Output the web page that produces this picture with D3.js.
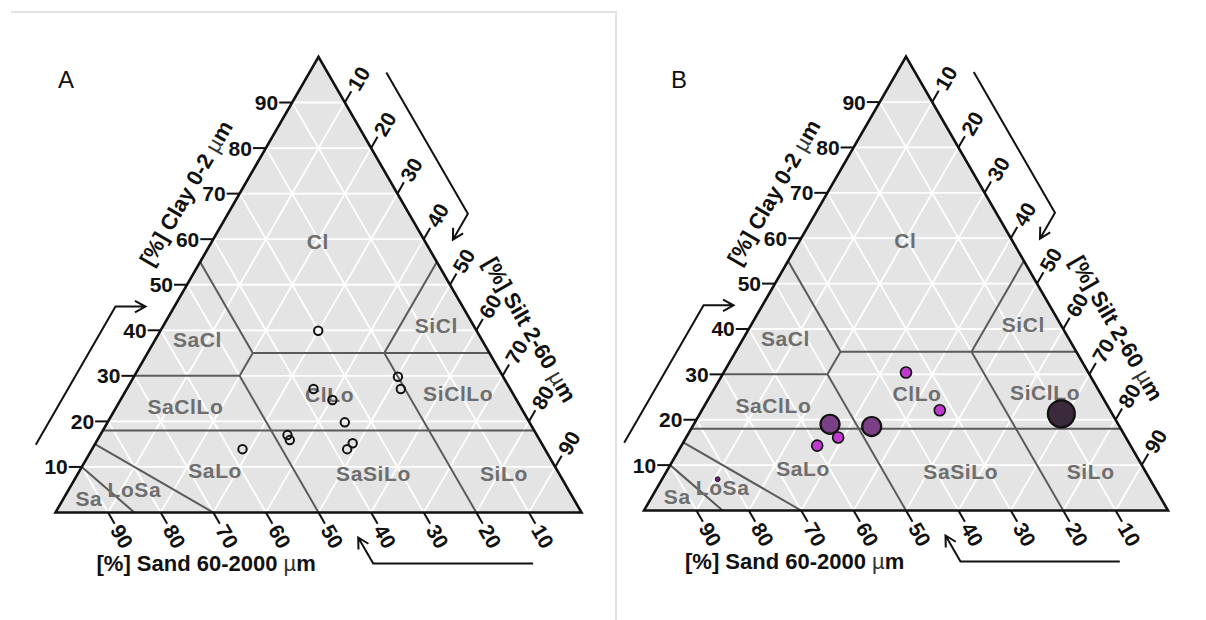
<!DOCTYPE html>
<html>
<head>
<meta charset="utf-8">
<script src="https://cdn.jsdelivr.net/npm/d3@7"></script>
<style>
  body { margin: 0; background: #fff; }
  svg { display: block; }
  text { font-family: "Liberation Sans", Arial, sans-serif; }
</style>
</head>
<body>
<svg id="chart" width="1206" height="620"></svg>
<script>
// ---- data -------------------------------------------------------------
const gridSteps = [10, 20, 30, 40, 50, 60, 70, 80, 90];
const clayTicks = [10, 20, 30, 40, 50, 60, 70, 80, 90];
const siltTicks = [10, 20, 30, 40, 50, 60, 70, 80, 90];
const sandTicks = [90, 80, 70, 60, 50, 40, 30, 20, 10];

// texture-class boundaries, vertices given as [silt %, clay %]
const classBoundaries = [
  [[0, 55], [20, 35], [20, 30], [50, 0]],
  [[45, 55], [45, 35], [80, 0]],
  [[20, 35], [65, 35]],
  [[0, 30], [20, 30]],
  [[0, 18], [82, 18]],
  [[0, 15], [30, 0]],
  [[0, 10], [15, 0]]
];

// texture-class names and where they sit ([silt %, clay %])
const classNames     = ["Cl", "SaCl", "SiCl", "SaClLo", "ClLo", "SiClLo", "SaLo", "SaSiLo", "SiLo", "LoSa", "Sa"];
const classLabelSilt = [20.1, 8.0, 51.9, 13.1, 39.2, 63.5, 25.7, 56.2, 81.0, 12.5, 4.8];
const classLabelClay = [59.6, 38.0, 41.0, 23.2, 25.8, 26.1, 9.3, 8.5, 8.5, 5.0, 3.1];

// panel A samples
const aSilt = [30.0, 50.2, 52.1, 35.5, 40.3, 45.1, 35.6, 36.6, 28.6, 48.9, 48.5];
const aClay = [39.9, 29.8, 27.1, 27.1, 24.7, 19.8, 17.0, 15.9, 13.9, 15.2, 13.9];

// panel B samples (count drives the marker size)
const bSilt  = [34.8, 45.4, 26.0, 29.0, 25.9, 34.2, 69.0, 10.6];
const bClay  = [30.4, 22.1, 19.0, 16.1, 14.3, 18.5, 21.3, 6.9];
const bCount = [1, 1, 3, 1, 1, 3, 6, 0.2];
const bFill  = ["#bf3acf", "#bf3acf", "#7b3f86", "#bf3acf", "#bf3acf", "#7b3f86", "#3b2a3c", "#6a1c6c"];

// ---- drawing ------------------------------------------------------------
const svg = d3.select("#chart");
const S3 = Math.sqrt(3) / 2;

// light frame round the first panel
svg.append("path")
  .attr("d", "M11,12 H616 V620")
  .attr("fill", "none").attr("stroke", "#e2e2e2").attr("stroke-width", 2);

function arrowPath(pts, tipDir) {
  const line = d3.line();
  const tip = pts[pts.length - 1];
  const back = [-tipDir[0], -tipDir[1]];
  const arm = (ang) => {
    const c = Math.cos(ang), s = Math.sin(ang);
    return [tip[0] + 12 * (back[0] * c - back[1] * s), tip[1] + 12 * (back[0] * s + back[1] * c)];
  };
  return line(pts) + "M" + arm(0.5) + "L" + tip + "L" + arm(-0.5);
}

function drawPanel(geom, letter, drawPoints) {
  const { x0, y0, L } = geom;
  const H = L * S3;
  const g = svg.append("g");
  const u = d3.scaleLinear().domain([0, 100]).range([x0, x0 + L]);
  const v = d3.scaleLinear().domain([0, 100]).range([y0, y0 - H]);
  const pt = (silt, clay) => [u(silt + clay / 2), v(clay)];
  const line = d3.line();

  const left = pt(0, 0), right = pt(100, 0), apex = pt(0, 100);

  g.append("path").attr("d", line([left, right, apex]) + "Z").attr("fill", "#e4e4e4");

  // white 10 % grid in the three directions
  const grid = [];
  gridSteps.forEach(k => {
    grid.push([pt(0, k), pt(100 - k, k)]);
    grid.push([pt(k, 0), pt(k, 100 - k)]);
    grid.push([pt(100 - k, 0), pt(0, 100 - k)]);
  });
  g.append("g").selectAll("path").data(grid).join("path")
    .attr("d", d => line(d)).attr("stroke", "#fff").attr("stroke-width", 1.8).attr("fill", "none");

  // class boundaries
  g.append("g").selectAll("path").data(classBoundaries).join("path")
    .attr("d", d => line(d.map(p => pt(p[0], p[1]))))
    .attr("stroke", "#5a5a5a").attr("stroke-width", 2).attr("fill", "none")
    .attr("stroke-linejoin", "round");

  // class names
  g.append("g").selectAll("text").data(classNames).join("text")
    .attr("x", (d, i) => pt(classLabelSilt[i], classLabelClay[i])[0])
    .attr("y", (d, i) => pt(classLabelSilt[i], classLabelClay[i])[1])
    .attr("text-anchor", "middle").attr("dominant-baseline", "central")
    .attr("font-size", 21).attr("font-weight", "bold").attr("letter-spacing", 0.6)
    .attr("fill", "#6e6e6e").text(d => d);

  // outline
  g.append("path").attr("d", line([left, right, apex]) + "Z")
    .attr("fill", "none").attr("stroke", "#111").attr("stroke-width", 2.6).attr("stroke-linejoin", "miter");

  const tickLen = 13, gap = 3;
  const ax = g.append("g").attr("fill", "#111").attr("font-size", 21).attr("font-weight", "bold");

  // clay axis (left edge, horizontal ticks)
  clayTicks.forEach(c => {
    const p = pt(0, c);
    ax.append("line").attr("x1", p[0]).attr("y1", p[1]).attr("x2", p[0] - tickLen).attr("y2", p[1])
      .attr("stroke", "#111").attr("stroke-width", 2);
    ax.append("text").attr("x", p[0] - tickLen - 1).attr("y", p[1])
      .attr("text-anchor", "end").attr("dominant-baseline", "central").text(c);
  });

  // silt axis (right edge, ticks run up-right)
  const dS = [0.5, -S3];
  siltTicks.forEach(s => {
    const p = pt(s, 100 - s);
    const e = [p[0] + dS[0] * tickLen, p[1] + dS[1] * tickLen];
    const t = [p[0] + dS[0] * (tickLen + gap), p[1] + dS[1] * (tickLen + gap)];
    ax.append("line").attr("x1", p[0]).attr("y1", p[1]).attr("x2", e[0]).attr("y2", e[1])
      .attr("stroke", "#111").attr("stroke-width", 2);
    ax.append("text").attr("transform", `translate(${t[0]},${t[1]}) rotate(-60)`)
      .attr("text-anchor", "start").attr("dominant-baseline", "central").text(s);
  });

  // sand axis (bottom edge, ticks run down-right)
  const dB = [0.5, S3];
  sandTicks.forEach(s => {
    const p = pt(100 - s, 0);
    const e = [p[0] + dB[0] * tickLen, p[1] + dB[1] * tickLen];
    const t = [p[0] + dB[0] * (tickLen + gap), p[1] + dB[1] * (tickLen + gap)];
    ax.append("line").attr("x1", p[0]).attr("y1", p[1]).attr("x2", e[0]).attr("y2", e[1])
      .attr("stroke", "#111").attr("stroke-width", 2);
    ax.append("text").attr("transform", `translate(${t[0]},${t[1]}) rotate(60)`)
      .attr("text-anchor", "start").attr("dominant-baseline", "central").text(s);
  });

  // axis titles
  const title = (sel, main) => {
    sel.append("tspan").text(main);
    sel.append("tspan").attr("font-weight", "normal").attr("fill", "#333").text("\u00b5");
    sel.append("tspan").text("m");
  };
  const dirL = [0.5, -S3], nL = [-S3, -0.5];
  const cT = [left[0] + dirL[0] * 0.65 * L + nL[0] * 47, left[1] + dirL[1] * 0.65 * L + nL[1] * 47];
  title(g.append("text").attr("transform", `translate(${cT[0]},${cT[1]}) rotate(-60)`)
    .attr("text-anchor", "middle").attr("dominant-baseline", "central")
    .attr("font-size", 22).attr("font-weight", "bold").attr("fill", "#111"), "[%] Clay 0-2 ");

  const dirR = [0.5, S3], nR = [S3, -0.5];
  const sT = [apex[0] + dirR[0] * 0.65 * L + nR[0] * 47, apex[1] + dirR[1] * 0.65 * L + nR[1] * 47];
  title(g.append("text").attr("transform", `translate(${sT[0]},${sT[1]}) rotate(60)`)
    .attr("text-anchor", "middle").attr("dominant-baseline", "central")
    .attr("font-size", 22).attr("font-weight", "bold").attr("fill", "#111"), "[%] Silt 2-60 ");

  title(g.append("text").attr("x", left[0] + 41).attr("y", left[1] + 58)
    .attr("font-size", 22).attr("font-weight", "bold").attr("fill", "#111"), "[%] Sand 60-2000 ");

  // direction arrows
  const arrows = [];
  {
    const a = 0.093 * L, b = 0.396 * L, off = 51;
    const p1 = [left[0] + dirL[0] * a + nL[0] * off, left[1] + dirL[1] * a + nL[1] * off];
    const p2 = [left[0] + dirL[0] * b + nL[0] * off, left[1] + dirL[1] * b + nL[1] * off];
    const tdir = [1, 0];
    arrows.push(arrowPath([p1, p2, [p2[0] + 30 * tdir[0], p2[1] + 30 * tdir[1]]], tdir));
  }
  {
    const a = 0.09 * L, b = 0.40 * L, off = 51;
    const p1 = [apex[0] + dirR[0] * a + nR[0] * off, apex[1] + dirR[1] * a + nR[1] * off];
    const p2 = [apex[0] + dirR[0] * b + nR[0] * off, apex[1] + dirR[1] * b + nR[1] * off];
    const tdir = [-0.5, S3];
    arrows.push(arrowPath([p1, p2, [p2[0] + 30 * tdir[0], p2[1] + 30 * tdir[1]]], tdir));
  }
  {
    const a = 0.092 * L, b = 0.396 * L, off = 51;
    const p1 = [right[0] - a, right[1] + off];
    const p2 = [right[0] - b, right[1] + off];
    const tdir = [-0.5, -S3];
    arrows.push(arrowPath([p1, p2, [p2[0] + 30 * tdir[0], p2[1] + 30 * tdir[1]]], tdir));
  }
  g.append("g").selectAll("path").data(arrows).join("path")
    .attr("d", d => d).attr("fill", "none").attr("stroke", "#111").attr("stroke-width", 2)
    .attr("stroke-linejoin", "miter");

  // panel letter
  g.append("text").attr("x", letter.x).attr("y", letter.y)
    .attr("font-size", 24).attr("fill", "#111").text(letter.t);

  drawPoints(g, pt);
}

// panel A: open circles
drawPanel({ x0: 55.5, y0: 512.5, L: 526 }, { t: "A", x: 58, y: 88 }, (g, pt) => {
  g.append("g").selectAll("circle").data(aSilt).join("circle")
    .attr("cx", (d, i) => pt(aSilt[i], aClay[i])[0])
    .attr("cy", (d, i) => pt(aSilt[i], aClay[i])[1])
    .attr("r", 4.2).attr("fill", "none").attr("stroke", "#111").attr("stroke-width", 2);
});

// panel B: filled circles sized by count
drawPanel({ x0: 644, y0: 510.5, L: 524 }, { t: "B", x: 671, y: 88 }, (g, pt) => {
  const r = d3.scaleSqrt().domain([0, 1]).range([0, 5.5]);
  const order = d3.range(bSilt.length).sort((a, b) => bCount[b] - bCount[a]);
  g.append("g").selectAll("circle").data(order).join("circle")
    .attr("cx", i => pt(bSilt[i], bClay[i])[0])
    .attr("cy", i => pt(bSilt[i], bClay[i])[1])
    .attr("r", i => r(bCount[i]))
    .attr("fill", i => bFill[i])
    .attr("stroke", "#111").attr("stroke-width", i => bCount[i] < 0.5 ? 0.8 : (bCount[i] > 2 ? 2.2 : 1.6));
});
</script>
</body>
</html>
